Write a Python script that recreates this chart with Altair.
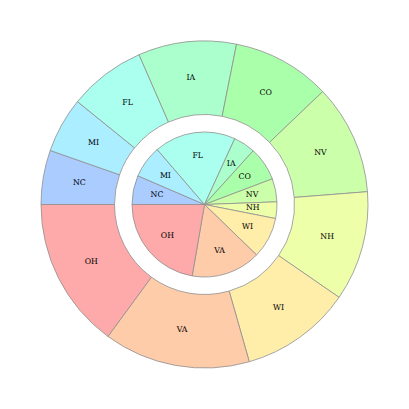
import math
import altair as alt
import pandas as pd

# Order: clockwise from 9 o'clock (i.e. reverse of the counter-clockwise drawing order)
states = ["NC", "MI", "FL", "IA", "CO", "NV", "NH", "WI", "VA", "OH"]
outer_values = [19.3, 19.7, 27.4, 34.9, 35.0, 39.2, 39.1, 39.5, 52.1, 53.8]
inner_values = [23.3, 26.0, 65.4, 17.5, 27.1, 18.6, 13.3, 32.9, 55.7, 80.2]
colors = ["#aaccff", "#aaeeff", "#aaffee", "#aaffcc", "#aaffaa",
          "#ccffaa", "#eeffaa", "#ffeeaa", "#ffccaa", "#ffaaaa"]

outer_df = pd.DataFrame({"state": states, "value": outer_values, "idx": list(range(len(states)))})
inner_df = pd.DataFrame({"state": states, "value": inner_values, "idx": list(range(len(states)))})

theta_scale = alt.Scale(domain=[0, 360], range=[-math.pi / 2, 3 * math.pi / 2])
color_scale = alt.Scale(domain=states, range=colors)

def enc(chart):
    return chart.encode(
        theta=alt.Theta("value:Q", stack=True, scale=theta_scale),
        order=alt.Order("idx:O"),
        color=alt.Color("state:N", scale=color_scale, legend=None),
    )

outer_arc = enc(alt.Chart(outer_df).mark_arc(
    radius=163.5, radius2=90, stroke="#8f8f8f", strokeWidth=0.8))
inner_arc = enc(alt.Chart(inner_df).mark_arc(
    radius=72.5, radius2=0, stroke="#8f8f8f", strokeWidth=0.8))

def labels(df, r):
    return alt.Chart(df).mark_text(
        radius=r, font="DejaVu Serif", fontSize=7.8, color="#000000"
    ).encode(
        theta=alt.Theta("value:Q", stack=True, scale=theta_scale),
        order=alt.Order("idx:O"),
        text="state:N",
    )

chart = alt.layer(
    outer_arc, inner_arc, labels(outer_df, 127), labels(inner_df, 48.5)
).properties(
    width=393, height=393, padding=0
).configure_view(stroke=None)

chart.save("out.html", embed_options={"renderer": "svg", "actions": False})
